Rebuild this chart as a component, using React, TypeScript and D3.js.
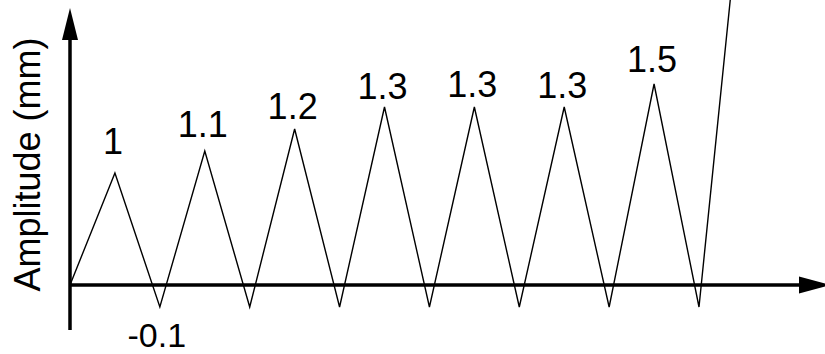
import React from "react";
import * as d3 from "d3";

// Zig-zag amplitude sequence: start at rest, then alternating peaks and troughs,
// finishing with a steep final rise that leaves the plot.
const amplitudes = [0, 1, -0.1, 1.1, -0.1, 1.2, -0.1, 1.3, -0.1, 1.3, -0.1, 1.3, -0.1, 1.5, -0.1, 3.4];
const peakLabels = ["1", "1.1", "1.2", "1.3", "1.3", "1.3", "1.5"];
const troughLabel = "-0.1";
const yLabel = "Amplitude (mm)";

// Schematic (non-uniform) amplitude axis anchors.
const yDomain = [-0.1, 0, 1, 1.3, 1.5];
const yRange = [307, 285, 173, 107, 84];

// Vertical gap between each peak and its label baseline.
const labelGaps = [19, 14, 10, 8, 10, 9, 12];

const W = 825;
const H = 354;
const FONT = "'Liberation Sans', Arial, Helvetica, sans-serif";

export default function App() {
  const x = d3.scaleLinear().domain([0, 14]).range([70, 699]);
  const y = d3.scaleLinear().domain(yDomain).range(yRange);

  const line = d3
    .line<number>()
    .x((_, i) => x(i))
    .y((d) => y(d));

  const axisY = y(0);
  const axisX = x(0);

  const peaks = amplitudes
    .map((v, i) => ({ v, i }))
    .filter((d) => d.i % 2 === 1 && d.i < 14);

  return (
    <svg
      width={W}
      height={H}
      style={{ position: "absolute", left: 0, top: 0, background: "#fff" }}
    >
      <defs>
        <clipPath id="plot-clip">
          <rect x={0} y={0} width={W} height={H} />
        </clipPath>
      </defs>
      <g clipPath="url(#plot-clip)">
        <path d={line(amplitudes) ?? ""} fill="none" stroke="#000" strokeWidth={1.4} strokeLinejoin="miter" />

        {/* x axis with arrow */}
        <line x1={axisX} x2={800} y1={axisY} y2={axisY} stroke="#000" strokeWidth={3.5} />
        <path d={`M799,${axisY - 8.5} L831,${axisY} L799,${axisY + 8.5} Z`} fill="#000" />

        {/* y axis with arrow */}
        <line x1={axisX} x2={axisX} y1={330} y2={38} stroke="#000" strokeWidth={3.5} />
        <path d={`M${axisX - 8},40 L${axisX},8 L${axisX + 8},40 Z`} fill="#000" />

        {peaks.map((d, k) => (
          <text
            key={k}
            x={x(d.i) - 2}
            y={y(d.v) - labelGaps[k]}
            textAnchor="middle"
            fontFamily={FONT}
            fontSize={36}
            fill="#000"
          >
            {peakLabels[k]}
          </text>
        ))}

        <text
          x={x(2) - 3}
          y={347}
          textAnchor="middle"
          fontFamily={FONT}
          fontSize={34}
          fill="#000"
        >
          {troughLabel}
        </text>

        <text
          transform={`translate(40,${(36 + 293) / 2}) rotate(-90)`}
          textAnchor="middle"
          fontFamily={FONT}
          fontSize={36}
          fill="#000"
        >
          {yLabel}
        </text>
      </g>
    </svg>
  );
}
